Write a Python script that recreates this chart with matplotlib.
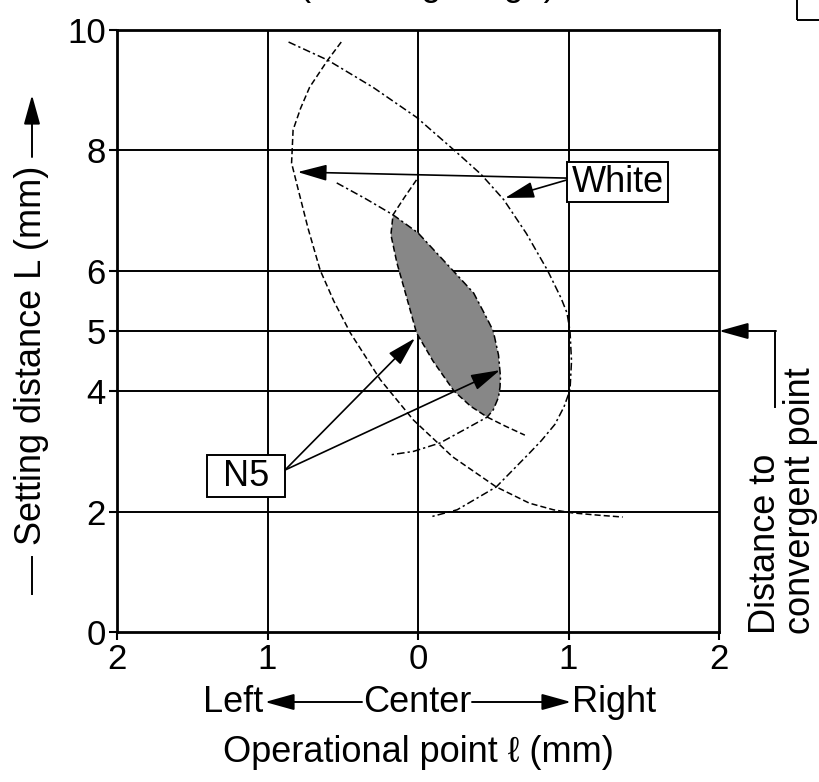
import matplotlib
matplotlib.use("Agg")
import matplotlib.pyplot as plt
from matplotlib.lines import Line2D
from matplotlib.patches import Rectangle

plt.rcParams["font.family"] = ["Liberation Sans", "DejaVu Sans"]

W, H = 819, 782

# ---- data (operational point mm, setting distance mm) ----
# White: right-hand boundary (dash-dot)
white_a_x = [-0.86, -0.60, -0.30, -0.01, 0.26, 0.42, 0.57, 0.72, 0.86, 0.95, 0.99,
             1.01, 1.02, 1.01, 0.97, 0.91, 0.82, 0.74, 0.52, 0.26, 0.08]
white_a_y = [9.80, 9.50, 9.05, 8.55, 7.96, 7.60, 7.18, 6.62, 6.01, 5.55, 5.30,
             5.00, 4.50, 4.02, 3.74, 3.45, 3.18, 2.97, 2.41, 2.03, 1.91]
# White: left-hand boundary (dashed)
white_b_x = [-0.51, -0.60, -0.72, -0.78, -0.83, -0.84, -0.80, -0.73, -0.65, -0.56, -0.45,
             -0.25, -0.03, 0.23, 0.52, 0.74, 0.90, 1.02, 1.20, 1.36]
white_b_y = [9.80, 9.50, 9.05, 8.70, 8.34, 7.79, 7.39, 6.70, 6.01, 5.50, 4.97,
             4.19, 3.52, 2.91, 2.41, 2.14, 2.03, 1.98, 1.94, 1.91]
# N5: right-hand boundary (dash-dot)
n5_a_x = [-0.54, -0.35, -0.166, 0.0, 0.23, 0.37, 0.46, 0.50, 0.535, 0.548, 0.545,
          0.535, 0.50, 0.46, 0.30, 0.146, -0.03, -0.19]
n5_a_y = [7.46, 7.20, 6.93, 6.63, 6.01, 5.63, 5.20, 5.00, 4.60, 4.24, 4.07,
          3.90, 3.69, 3.57, 3.35, 3.14, 3.00, 2.94]
# N5: left-hand boundary (dashed)
n5_b_x = [-0.01, -0.09, -0.166, -0.18, -0.14, -0.08, -0.01, 0.10, 0.24, 0.35, 0.46, 0.58, 0.71]
n5_b_y = [7.51, 7.22, 6.93, 6.60, 6.13, 5.60, 4.97, 4.50, 4.00, 3.75, 3.57, 3.42, 3.27]

xticks = [-2, -1, 0, 1, 2]
xticklabels = ["2", "1", "0", "1", "2"]
yticks = [0, 2, 4, 5, 6, 8, 10]
grid_x = [-1, 0, 1]
grid_y = [2, 4, 5, 6, 8]
convergent_distance = 5

FS = 26


def fp(x, y):
    """pixel position (from top-left) -> figure fraction"""
    return (x / W, 1 - y / H)


fig = plt.figure(figsize=(W / 100, H / 100), dpi=100)
ax = fig.add_axes([117 / W, 1 - 632 / H, 602 / W, 602 / H])
ax.set_xlim(-2, 2)
ax.set_ylim(0, 10)
ax.set_xticks(xticks)
ax.set_xticklabels(xticklabels)
ax.set_yticks(yticks)
ax.tick_params(labelsize=25, width=1.5, length=6, pad=2, color="k")
for s in ax.spines.values():
    s.set_linewidth(2)

for gx in grid_x:
    ax.axvline(gx, color="k", lw=1.4, zorder=1)
for gy in grid_y:
    ax.axhline(gy, color="k", lw=1.4, zorder=1)

# shaded N5 region between the two N5 curves
i0 = n5_a_y.index(6.93)
i1 = n5_a_y.index(3.57)
j0 = n5_b_y.index(6.93)
j1 = n5_b_y.index(3.57)
fill_x = n5_a_x[i0:i1 + 1] + n5_b_x[j0:j1 + 1][::-1]
fill_y = n5_a_y[i0:i1 + 1] + n5_b_y[j0:j1 + 1][::-1]
ax.fill(fill_x, fill_y, color="#878787", lw=0, zorder=2)

dashdot = (5, 2, 1.5, 2)
dashed = (4, 2)
ax.plot(white_a_x, white_a_y, color="k", lw=1.1, dashes=dashdot, zorder=3)
ax.plot(white_b_x, white_b_y, color="k", lw=1.1, dashes=dashed, zorder=3)
ax.plot(n5_a_x, n5_a_y, color="k", lw=1.1, dashes=dashdot, zorder=3)
ax.plot(n5_b_x, n5_b_y, color="k", lw=1.1, dashes=dashed, zorder=3)

arrow = dict(arrowstyle="-|>,head_length=1.8,head_width=0.5", color="k", lw=1.2,
             shrinkA=0, shrinkB=0, mutation_scale=10)

# label boxes
ax.add_patch(Rectangle((0.99, 7.14), 0.67, 0.67, fc="white", ec="k", lw=1.4, zorder=5))
ax.text(1.325, 7.47, "White", ha="center", va="center", fontsize=FS, zorder=6)
ax.annotate("", xy=(-0.80, 7.64), xytext=(0.99, 7.54), arrowprops=arrow, zorder=4)
ax.annotate("", xy=(0.578, 7.21), xytext=(0.99, 7.51), arrowprops=arrow, zorder=4)

ax.add_patch(Rectangle((-1.40, 2.24), 0.516, 0.70, fc="white", ec="k", lw=1.4, zorder=5))
ax.text(-1.142, 2.59, "N5", ha="center", va="center", fontsize=FS, zorder=6)
ax.annotate("", xy=(-0.02, 4.88), xytext=(-0.884, 2.69), arrowprops=arrow, zorder=4)
ax.annotate("", xy=(0.545, 4.35), xytext=(-0.884, 2.69), arrowprops=arrow, zorder=4)

# distance to convergent point marker
fig.add_artist(Line2D([fp(775, 407)[0], fp(775, 331)[0]], [fp(775, 407)[1], fp(775, 331)[1]],
                      color="k", lw=1.4))
ax.annotate("", xy=(2.0, convergent_distance), xycoords="data",
            xytext=fp(776, 331), textcoords="figure fraction",
            arrowprops=dict(arrow, lw=1.4), annotation_clip=False)
fig.text(*fp(783, 634), "Distance to\nconvergent point", rotation=90, ha="center",
         va="bottom", multialignment="left", fontsize=FS, linespacing=1.0)

# y axis label with arrow
fig.text(*fp(32, 355), "Setting distance L (mm)", rotation=90, ha="center", va="center",
         fontsize=FS)
fig.add_artist(Line2D([fp(32, 557)[0]] * 2, [fp(32, 557)[1], fp(32, 594)[1]], color="k", lw=1.4))
ax.annotate("", xy=fp(32, 95), xycoords="figure fraction", xytext=fp(32, 157),
            textcoords="figure fraction", arrowprops=dict(arrow, lw=1.4),
            annotation_clip=False)

# x axis labels
fig.text(*fp(263, 702), "Left", ha="right", va="center", fontsize=FS)
fig.text(*fp(417, 702), "Center", ha="center", va="center", fontsize=FS)
fig.text(*fp(572, 702), "Right", ha="left", va="center", fontsize=FS)
ax.annotate("", xy=fp(265, 702), xycoords="figure fraction", xytext=fp(362, 702),
            textcoords="figure fraction", arrowprops=dict(arrow, lw=1.4), annotation_clip=False)
ax.annotate("", xy=fp(571, 702), xycoords="figure fraction", xytext=fp(472, 702),
            textcoords="figure fraction", arrowprops=dict(arrow, lw=1.4), annotation_clip=False)
fig.text(*fp(418, 752), "Operational point \u2113 (mm)", ha="center", va="center", fontsize=FS)

# cropped remains at the top edge
fig.text(*fp(427, -5), "(Sensing range)", ha="center", va="baseline", fontsize=FS)
fig.add_artist(Rectangle(fp(797, 20), 40 / W, 40 / H, fill=False, ec="k", lw=1.4))

fig.savefig("out.png", dpi=100)
